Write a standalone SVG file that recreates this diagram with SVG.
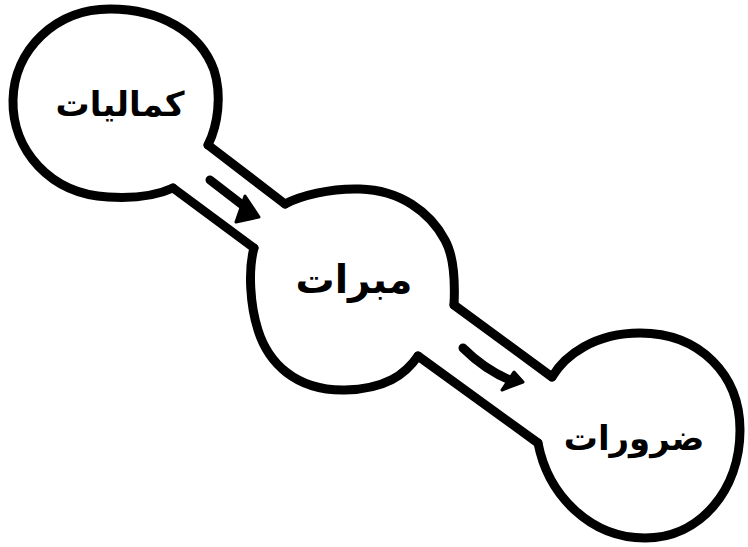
<svg xmlns="http://www.w3.org/2000/svg" width="748" height="547" viewBox="0 0 748 547">
<style>
.o{fill:none;stroke:#000;stroke-width:9;stroke-linecap:round;stroke-linejoin:round}
.a{fill:none;stroke:#000;stroke-width:9;stroke-linecap:round}
.h{fill:#000;stroke:#000;stroke-width:3;stroke-linejoin:round}
.t{font-family:"DejaVu Sans","Noto Sans",sans-serif;font-weight:bold;font-size:34px;fill:#000;text-anchor:middle}
</style>
<rect width="748" height="547" fill="#fff"/>
<g id="node-kamaliyat">
<path class="o" d="M208,145 C218,125 222,95 214,70 C200,32 160,9 110,9 C55,9 14,50 13,100 C12,150 50,194 108,197 C140,199 160,194 173,188"/>
<text class="t" x="120" y="116">کمالیات</text>
</g>
<g id="node-mabarrat">
<path class="o" d="M285,204 C300,196 330,188 360,189 C400,190 430,212 445,240 C455,258 455,285 454,305 M418,356 C405,375 385,389 345,390 C295,391 268,362 258,330 C250,305 248,270 254,248"/>
<text class="t" x="354" y="293" style="font-size:39px">مبرات</text>
</g>
<g id="node-zaruriyat">
<path class="o" d="M552,377 C565,355 595,333 640,333 C700,333 740,375 740,430 C740,490 700,538 645,538 C590,538 548,495 538,443"/>
<text class="t" x="634" y="450">ضرورات</text>
</g>
<g id="connectors">
<path class="o" d="M208,145 L285,204 M173,188 L254,248"/>
<path class="o" d="M454,305 L552,377 M418,356 L538,443"/>
<path class="a" d="M210,180 L245,207"/>
<polygon class="h" points="259,217 245,196 236,222"/>
<path class="a" d="M463,348 Q485,370 512,381"/>
<polygon class="h" points="523,382 514,372 502,390"/>
</g>
</svg>
